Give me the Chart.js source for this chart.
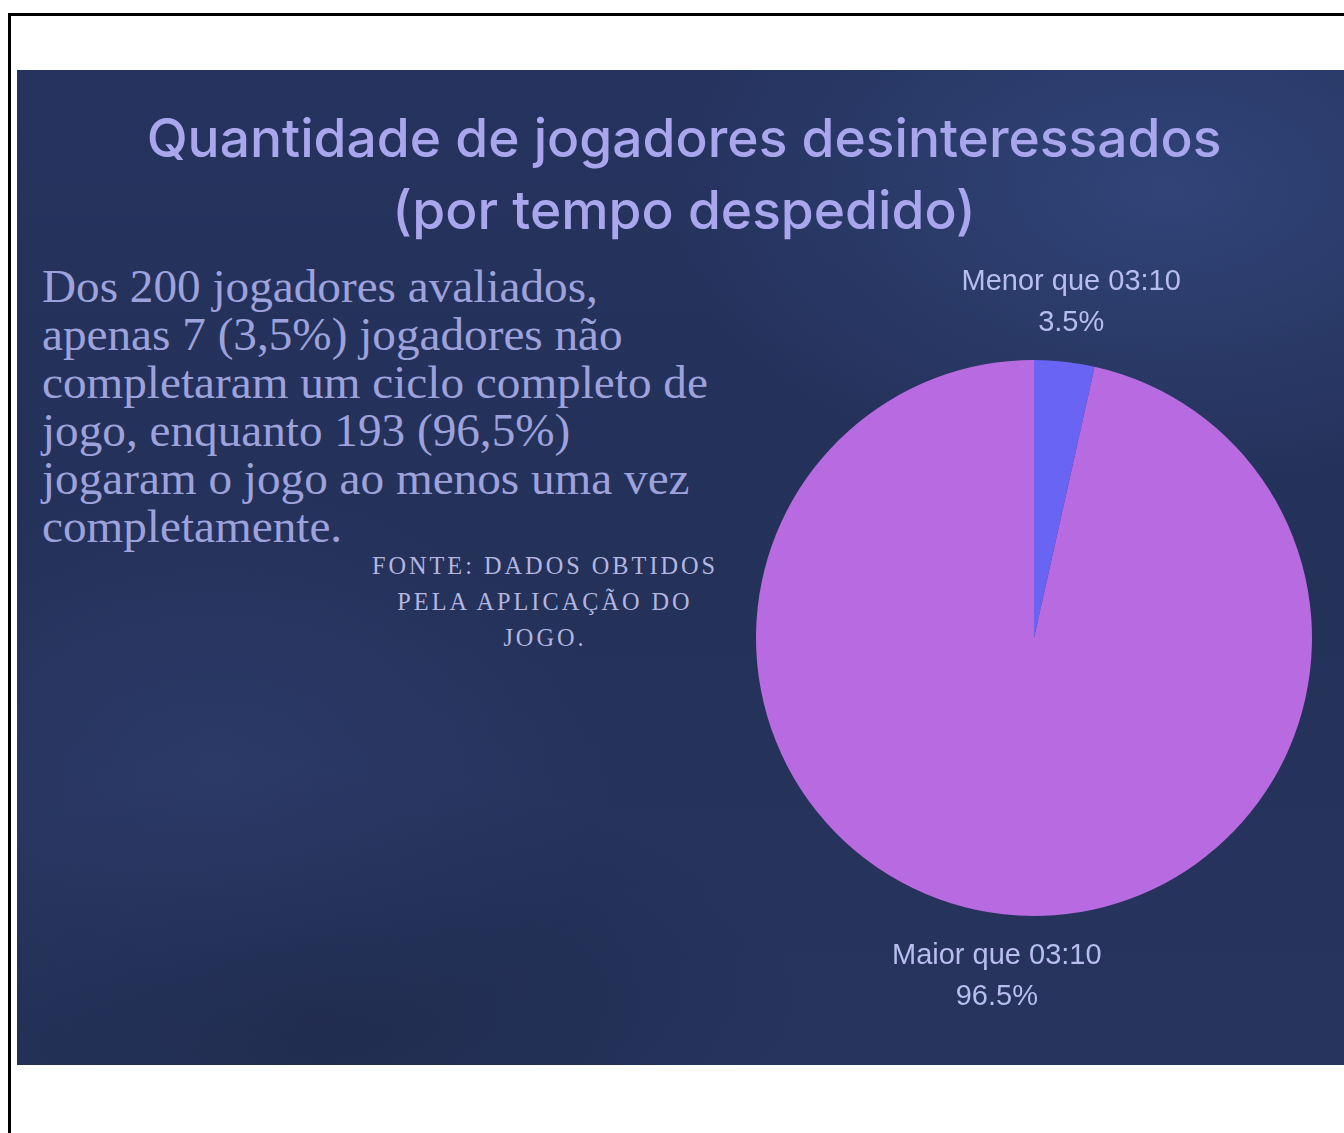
<!DOCTYPE html>
<html>
<head>
<meta charset="utf-8">
<script src="https://cdn.jsdelivr.net/npm/chart.js@4"></script>
<style>
  html, body { margin:0; padding:0; background:#fff; width:1344px; height:1133px; overflow:hidden; }
  #frame { position:absolute; left:8px; top:13px; width:1400px; height:1200px; border-left:3px solid #000; border-top:3px solid #000; }
  #panel { position:absolute; left:17px; top:70px; width:1340px; height:995px; overflow:hidden;
    background:
      radial-gradient(ellipse 500px 300px at 1150px 120px, rgba(70,100,170,0.35), rgba(0,0,0,0)),
      radial-gradient(ellipse 400px 300px at 200px 700px, rgba(60,80,140,0.25), rgba(0,0,0,0)),
      radial-gradient(ellipse 500px 250px at 300px 950px, rgba(15,20,40,0.3), rgba(0,0,0,0)),
      linear-gradient(180deg, #25335e 0%, #243159 50%, #27355e 100%); }
  .t { position:absolute; white-space:nowrap; }
  #title1, #title2 { color:#a9a6ee; font-family:"Inter","DejaVu Sans",sans-serif; font-weight:500; transform:translate(-50%,-50%); }
  #body { color:#9ea2dc; font-family:"Liberation Serif","DejaVu Serif",serif; line-height:48px; left:42px; top:262px; }
  #fonte { color:#b4b6e0; font-family:"Liberation Serif","DejaVu Serif",serif; letter-spacing:3px; line-height:36px; text-align:center; transform:translateX(-50%); left:545px; top:548px; }
  #wrap { position:absolute; left:734px; top:238px; width:600px; height:800px; }
</style>
</head>
<body>
<div id="frame"></div>
<div id="panel"></div>
<div class="t" id="title1" style="left:684px; top:137px;">Quantidade de jogadores desinteressados</div>
<div class="t" id="title2" style="left:684px; top:209px;">(por tempo despedido)</div>
<div class="t" id="body">Dos 200 jogadores avaliados,<br>apenas 7 (3,5%) jogadores não<br>completaram um ciclo completo de<br>jogo, enquanto 193 (96,5%)<br>jogaram o jogo ao menos uma vez<br>completamente.</div>
<div class="t" id="fonte">FONTE: DADOS OBTIDOS<br>PELA APLICAÇÃO DO<br>JOGO.</div>
<div id="wrap"><canvas id="c"></canvas></div>
<script>
const categories = ["Menor que 03:10", "Maior que 03:10"];
const values = [7, 193];
const percentLabels = ["3.5%", "96.5%"];
const sliceColors = ["#6964f4", "#b86be0"];

// fit text widths
const mc = document.createElement('canvas').getContext('2d');
function fit(el, text, family, weight, targetW, spacing) {
  mc.font = weight + " 100px " + family;
  let w = mc.measureText(text).width;
  let size = 100 * targetW / w;
  if (spacing) {
    for (let i=0;i<5;i++){ mc.font = weight+" "+size+"px "+family; w = mc.measureText(text).width + spacing*text.length; size = size*targetW/w; }
  }
  el.style.fontSize = size.toFixed(2) + "px";
  return size;
}
const tf = '"Inter","DejaVu Sans",sans-serif';
const s1 = fit(document.getElementById('title1'), "Quantidade de jogadores desinteressados", tf, "500", 1075);
document.getElementById('title2').style.fontSize = s1.toFixed(2) + "px";
const bf = '"Liberation Serif","DejaVu Serif",serif';
fit(document.getElementById('body'), "completaram um ciclo completo de", bf, "normal", 666);
fit(document.getElementById('fonte'), "FONTE: DADOS OBTIDOS", bf, "normal", 346, 3);

const outerLabels = {
  id: 'outerLabels',
  afterDatasetsDraw(chart) {
    const ctx = chart.ctx;
    const meta = chart.getDatasetMeta(0);
    ctx.save();
    ctx.fillStyle = "#b8bdf0";
    ctx.font = '29px "Liberation Sans", Arial, sans-serif';
    ctx.textAlign = "center";
    ctx.textBaseline = "middle";
    meta.data.forEach((arc, i) => {
      const p = arc.getProps(['x','y','startAngle','endAngle','outerRadius'], true);
      const mid = (p.startAngle + p.endAngle) / 2;
      const r = p.outerRadius + 61;
      const x = p.x + Math.cos(mid) * r;
      const y = p.y + Math.sin(mid) * r;
      ctx.fillText(categories[i], x, y - 19);
      ctx.fillText(percentLabels[i], x, y + 22);
    });
    ctx.restore();
  }
};

new Chart(document.getElementById('c'), {
  type: 'pie',
  data: {
    labels: categories,
    datasets: [{ data: values, backgroundColor: sliceColors, borderWidth: 0 }]
  },
  options: {
    responsive: true,
    maintainAspectRatio: false,
    animation: false,
    layout: { padding: { left: 22, right: 22, top: 122, bottom: 122 } },
    plugins: { legend: { display: false }, tooltip: { enabled: false } }
  },
  plugins: [outerLabels]
});
</script>
</body>
</html>
